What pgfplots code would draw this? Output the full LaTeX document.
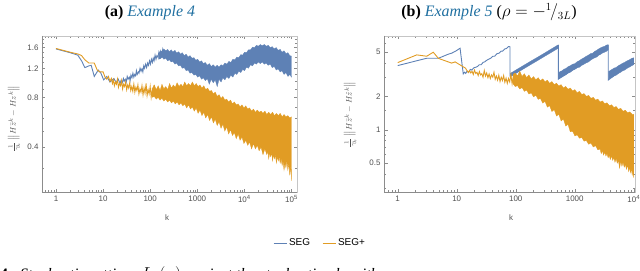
\documentclass[border=0pt]{standalone}
\usepackage{fontspec}
\setmainfont{Liberation Serif}
\newfontfamily\sansf{Liberation Sans}
\usepackage{pgfplots}
\pgfplotsset{compat=1.18}
\definecolor{segblue}{RGB}{94,129,181}
\definecolor{segorange}{RGB}{225,156,36}
\definecolor{titleblue}{RGB}{31,111,160}
\definecolor{tickgray}{RGB}{80,80,80}
\definecolor{framegray}{RGB}{140,140,140}
\begin{document}
\begin{tikzpicture}[x=1bp,y=1bp]
\useasboundingbox (0,0) rectangle (640,270);
% ---------------- left panel ----------------
\begin{axis}[scale only axis, xmode=log, ymode=log,
  axis line style={draw=framegray!50, line width=0.5pt},
  tick style={framegray, line width=0.4pt},
  major tick length=3.5bp, minor tick length=2bp,
  tick align=inside,
  ticklabel style={font=\sansf\fontsize{8}{9}\selectfont, text=tickgray},
  at={(42bp,78bp)}, anchor=south west, width=255bp, height=156bp,
  xmin=0.505, xmax=1.31e5, ymin=0.214, ymax=1.88,
  xtick={1,10,100,1000,10000,100000},
  xticklabels={1,10,100,1000,10\textsuperscript{4},10\textsuperscript{5}},
  minor xtick={0.6,0.7,0.8,0.9,2,3,4,5,6,7,8,9,20,30,40,50,60,70,80,90,200,300,400,500,600,700,800,900,2000,3000,4000,5000,6000,7000,8000,9000,20000,30000,40000,50000,60000,70000,80000,90000},
  ytick={0.4,0.8,1.2,1.6}, yticklabels={0.4,0.8,1.2,1.6},
  minor ytick={0.3,0.5,0.6,0.7,0.9,1.0,1.1,1.3,1.4,1.5,1.7,1.8},
  legend style={at={(1.0902,-0.327)}, anchor=center, draw=none, fill=none, legend columns=2,
    font=\sansf\fontsize{10}{12}\selectfont, /tikz/every even column/.append style={column sep=10bp}},
  legend image code/.code={\draw[#1] (0bp,0bp) -- (13bp,0bp);},
]
% SEG band
\addplot[forget plot, draw=segblue, fill=segblue, line width=0.3bp] coordinates {
(150,1.47) (165,1.53) (180,1.51) (195,1.57) (215,1.53) (235,1.56) (255,1.51) (280,1.55) (305,1.50) (335,1.54) (365,1.48) (400,1.51) (440,1.46) (480,1.49) (530,1.43) (580,1.46) (640,1.40) (700,1.43) (770,1.38) (850,1.39) (930,1.34) (1020,1.36) (1120,1.31) (1230,1.33) (1350,1.28) (1480,1.30) (1630,1.25) (1800,1.28) (1980,1.23) (2180,1.26) (2400,1.22) (2650,1.25) (2900,1.22) (3200,1.26) (3500,1.24) (3850,1.29) (4250,1.27) (4700,1.32) (5150,1.30) (5700,1.36) (6300,1.35) (6900,1.40) (7600,1.39) (8400,1.45) (9200,1.44) (10100,1.50) (11100,1.49) (12200,1.55) (13500,1.55) (14900,1.61) (16400,1.60) (18000,1.65) (19800,1.63) (21800,1.67) (24000,1.64) (26500,1.67) (29000,1.63) (32000,1.65) (35500,1.60) (39000,1.62) (43000,1.57) (47500,1.60) (52000,1.54) (57500,1.56) (63000,1.50) (69500,1.53) (76500,1.47) (84000,1.49) (92000,1.43) (100000,1.42)
(100000,1.06) (92000,1.10) (84000,1.07) (76500,1.13) (69500,1.10) (63000,1.16) (57500,1.14) (52000,1.19) (47500,1.17) (43000,1.23) (39000,1.21) (35500,1.27) (32000,1.25) (29000,1.29) (26500,1.27) (24000,1.31) (21800,1.28) (19800,1.31) (18000,1.27) (16400,1.29) (14900,1.24) (13500,1.26) (12200,1.20) (11100,1.22) (10100,1.16) (9200,1.18) (8400,1.13) (7600,1.15) (6900,1.10) (6300,1.12) (5700,1.06) (5150,1.09) (4700,1.04) (4250,1.07) (3850,1.02) (3500,1.05) (3200,0.99) (2900,1.03) (2650,0.93) (2400,1.02) (2180,0.98) (1980,1.03) (1800,0.96) (1630,1.04) (1480,1.01) (1350,1.05) (1230,1.03) (1120,1.08) (1020,1.06) (930,1.10) (850,1.09) (770,1.13) (700,1.12) (640,1.17) (580,1.16) (530,1.21) (480,1.20) (440,1.25) (400,1.24) (365,1.29) (335,1.27) (305,1.32) (280,1.31) (255,1.35) (235,1.33) (215,1.38) (195,1.36) (180,1.40) (165,1.37) (150,1.36)
};
% SEG line
\addplot[forget plot, segblue, line width=0.9bp] coordinates {
(1,1.57) (2,1.49) (2.9,1.44) (3.5,1.33) (4.1,1.21) (5.0,1.24) (5.6,1.25) (6.5,1.07) (7.9,1.17) (9,1.12) (10.3,1.02) (12,1.07) (14,0.99) (17,1.04) (19,0.98) (21,1.03) (23,0.97)
(24,1.01) (25.5,0.98) (27,1.04) (28,1.00) (29.5,1.03) (31,0.99) (32.5,1.07) (34,1.03) (36,1.06) (37.5,1.01) (39,1.09) (41,1.05) (43,1.12) (45,1.06) (47,1.10) (49,1.08) (51,1.16) (53,1.10) (56,1.14) (58,1.12) (61,1.20) (64,1.15) (67,1.19) (70,1.14) (73,1.24) (76,1.20) (80,1.27) (84,1.21) (88,1.29) (92,1.25) (97,1.33) (101,1.27) (106,1.36) (111,1.30) (116,1.38) (121,1.33) (127,1.44) (133,1.36) (139,1.43) (146,1.40) (153,1.50) (160,1.42) (168,1.52) (176,1.45) (185,1.56) (194,1.44)
};
% SEG+ band
\addplot[forget plot, draw=segorange, fill=segorange, line width=0.3bp] coordinates {
(110,0.90) (122,0.95) (135,0.89) (148,0.94) (162,0.88) (178,0.96) (195,0.90) (214,0.93) (235,0.89) (258,0.97) (283,0.91) (310,0.95) (340,0.92) (373,0.98) (410,0.93) (450,0.96) (494,0.93) (542,0.99) (595,0.94) (653,0.97) (717,0.94) (787,0.99) (864,0.94) (948,0.97) (1040,0.93) (1142,0.95) (1254,0.91) (1376,0.94) (1510,0.89) (1658,0.91) (1820,0.87) (2000,0.88) (2195,0.84) (2410,0.86) (2645,0.81) (2900,0.83) (3190,0.79) (3500,0.81) (3840,0.77) (4220,0.78) (4630,0.75) (5080,0.77) (5580,0.73) (6120,0.75) (6720,0.72) (7380,0.73) (8100,0.70) (8900,0.72) (9770,0.69) (10700,0.71) (11800,0.68) (12900,0.69) (14200,0.66) (15600,0.68) (17100,0.65) (18800,0.67) (20600,0.65) (22600,0.66) (24800,0.64) (27300,0.66) (30000,0.63) (32900,0.65) (36100,0.63) (39700,0.65) (43500,0.62) (47800,0.64) (52500,0.62) (57600,0.64) (63300,0.61) (69500,0.63) (76300,0.61) (83800,0.62) (92000,0.60) (100000,0.61)
(100000,0.25) (96000,0.31) (92000,0.27) (88000,0.32) (83800,0.29) (80000,0.33) (76300,0.30) (72800,0.32) (69500,0.29) (66300,0.33) (63300,0.31) (60400,0.34) (57600,0.32) (55000,0.35) (52500,0.33) (50100,0.35) (47800,0.32) (45600,0.36) (43500,0.34) (41500,0.36) (39700,0.33) (37900,0.37) (36100,0.35) (34500,0.37) (32900,0.34) (31400,0.38) (30000,0.36) (27300,0.39) (24800,0.36) (22600,0.40) (20600,0.38) (18800,0.41) (17100,0.39) (15600,0.42) (14200,0.39) (12900,0.43) (11800,0.41) (10700,0.44) (9770,0.42) (8900,0.46) (8100,0.44) (7380,0.48) (6720,0.45) (6120,0.49) (5580,0.47) (5080,0.51) (4630,0.48) (4220,0.53) (3840,0.50) (3500,0.55) (3190,0.52) (2900,0.57) (2645,0.54) (2410,0.59) (2195,0.56) (2000,0.61) (1820,0.58) (1658,0.63) (1510,0.60) (1376,0.65) (1254,0.62) (1142,0.67) (1040,0.64) (948,0.69) (864,0.66) (787,0.70) (717,0.68) (653,0.72) (595,0.69) (542,0.73) (494,0.71) (450,0.74) (410,0.72) (373,0.75) (340,0.73) (310,0.76) (283,0.74) (258,0.77) (235,0.75) (214,0.78) (195,0.76) (178,0.79) (162,0.77) (148,0.80) (135,0.78) (122,0.81) (110,0.80)
};
% SEG+ line
\addplot[forget plot, segorange, line width=0.9bp] coordinates {
(1,1.58) (2,1.50) (3,1.46) (3.5,1.43) (4.1,1.35) (5,1.29) (6.5,1.29) (7.5,1.17) (8.5,1.14) (10,1.14) (11,1.06) (12,1.03) (13,1.07) (14,1.00)
(15,1.04) (15.8,0.97) (16.6,1.02) (17.4,0.94) (18.3,0.99) (19.2,0.96) (20.2,1.03) (21.2,0.92) (22.3,0.97) (23.5,0.94) (24.7,1.01) (26,0.90) (27.3,0.96) (28.7,0.93) (30.2,0.99) (31.7,0.89) (33.3,0.95) (35,0.91) (36.8,0.98) (38.7,0.88) (40.7,0.93) (42.8,0.87) (45,0.96) (47.3,0.86) (49.7,0.92) (52.2,0.88) (54.9,0.95) (57.7,0.84) (60.7,0.90) (63.8,0.86) (67,0.94) (70.5,0.83) (74,0.91) (77.8,0.85) (81.8,0.97) (86,0.82) (90.4,0.89) (95,0.84) (100,0.93) (105,0.80) (110,0.88) (116,0.83) (122,0.95)
};
\addlegendimage{segblue, line width=1bp}\addlegendentry{SEG}
\addlegendimage{segorange, line width=1bp}\addlegendentry{SEG+}
\draw[framegray, line width=0.6pt] (rel axis cs:0,1) -- (rel axis cs:0,0) -- (rel axis cs:1,0);
\end{axis}
% ---------------- right panel ----------------
\begin{axis}[scale only axis, xmode=log, ymode=log,
  axis line style={draw=framegray!50, line width=0.5pt},
  tick style={framegray, line width=0.4pt},
  major tick length=3.5bp, minor tick length=2bp,
  tick align=inside,
  ticklabel style={font=\sansf\fontsize{8}{9}\selectfont, text=tickgray},
  at={(384bp,78bp)}, anchor=south west, width=251bp, height=156bp,
  xmin=0.586, xmax=1.05e4, ymin=0.275, ymax=7.0,
  xtick={1,10,100,1000,10000},
  xticklabels={1,10,100,1000,10\textsuperscript{4}},
  minor xtick={0.6,0.7,0.8,0.9,2,3,4,5,6,7,8,9,20,30,40,50,60,70,80,90,200,300,400,500,600,700,800,900,2000,3000,4000,5000,6000,7000,8000,9000},
  ytick={0.5,1,2,5}, yticklabels={0.5,1,2,5},
  minor ytick={0.3,0.4,0.6,0.7,0.8,0.9,1.5,3,4,6,7},
]
% SEG teeth
\addplot[draw=segblue, fill=segblue, line width=0.3bp] coordinates {
(80,3.21) (100,3.45) (130,3.75) (170,4.08) (220,4.42) (290,4.82) (380,5.26) (450,5.55) (527,5.84)
(527,5.44) (450,5.17) (380,4.90) (290,4.50) (220,4.12) (170,3.80) (130,3.49) (100,3.21) (80,2.99)
};
\addplot[draw=segblue, fill=segblue, line width=0.3bp] coordinates {
(527,3.23) (570,3.36) (610,3.40) (655,3.52) (700,3.55) (770,3.70) (850,3.79) (920,3.90) (1000,3.94) (1100,4.10) (1200,4.20) (1300,4.33) (1400,4.42) (1550,4.58) (1700,4.70) (1850,4.85) (2000,4.90) (2200,5.10) (2350,5.20) (2550,5.36) (2700,5.45) (2950,5.58) (3200,5.65) (3450,5.80) (3700,5.85)
(3700,5.25) (3450,5.10) (3200,5.00) (2950,4.92) (2700,4.76) (2550,4.70) (2350,4.52) (2200,4.46) (2000,4.35) (1850,4.23) (1700,4.08) (1550,4.00) (1400,3.87) (1300,3.80) (1200,3.66) (1100,3.62) (1000,3.50) (920,3.44) (850,3.31) (770,3.25) (700,3.12) (655,3.07) (610,3.00) (570,2.95) (527,2.86)
};
\addplot[draw=segblue, fill=segblue, line width=0.3bp] coordinates {
(3700,3.32) (4000,3.43) (4300,3.50) (4650,3.60) (5000,3.64) (5500,3.78) (6000,3.88) (6500,3.98) (7000,4.05) (7700,4.18) (8500,4.28) (9200,4.40) (10000,4.45)
(10000,3.86) (9200,3.78) (8500,3.68) (7700,3.58) (7000,3.45) (6500,3.40) (6000,3.30) (5500,3.22) (5000,3.10) (4650,3.06) (4300,2.98) (4000,2.93) (3700,2.81)
};
\addplot[segblue, line width=0.9bp] coordinates {
(1,3.79) (3.1,4.41) (4.9,4.41) (7.2,4.8) (8.2,4.9) (9.5,5.1) (11.4,5.43) (12.9,3.19) (13.5,3.3) (14.2,3.22) (15,3.38) (16,3.3) (17,3.5) (18,3.45) (19.5,3.62) (21,3.66) (22.5,3.72) (24,3.85) (26,3.86) (28,4.05) (30,4.10) (32,4.22) (35,4.33) (38,4.42) (41,4.6) (44,4.6) (48,4.85) (52,4.9) (56,5.1) (60,5.12) (65,5.35) (70,5.4) (75,5.62) (80,5.6) (80,3.06) (527,5.64) (527,5.8) (527,2.86) (3700,5.55) (3700,5.8) (3700,2.81) (10000,4.15)
};
% SEG+ band
\addplot[draw=segorange, fill=segorange, line width=0.3bp] coordinates {
(90,3.15) (98,3.25) (107,3.05) (117,3.38) (128,3.02) (140,3.20) (153,2.95) (167,3.12) (183,2.88) (200,3.02) (219,2.82) (240,2.95) (262,2.76) (287,2.88) (314,2.70) (343,2.80) (375,2.62) (410,2.72) (449,2.55) (491,2.63) (537,2.48) (587,2.55) (642,2.38) (702,2.46) (768,2.32) (840,2.38) (919,2.24) (1005,2.30) (1100,2.15) (1200,2.22) (1315,2.08) (1440,2.12) (1575,2.00) (1720,2.04) (1880,1.92) (2060,1.96) (2250,1.85) (2460,1.89) (2690,1.78) (2940,1.82) (3220,1.72) (3520,1.75) (3850,1.65) (4210,1.68) (4600,1.59) (5030,1.62) (5500,1.53) (6020,1.56) (6580,1.47) (7200,1.50) (7870,1.42) (8600,1.45) (9400,1.38) (10000,1.38)
(10000,0.37) (9700,0.43) (9400,0.39) (9100,0.45) (8800,0.41) (8500,0.46) (8200,0.42) (7870,0.48) (7500,0.44) (7200,0.49) (6900,0.46) (6580,0.51) (6300,0.47) (6020,0.52) (5750,0.45) (5500,0.53) (5250,0.50) (5030,0.55) (4800,0.51) (4600,0.56) (4400,0.53) (4210,0.58) (4000,0.54) (3850,0.59) (3680,0.56) (3520,0.61) (3370,0.58) (3220,0.63) (3080,0.59) (2940,0.65) (2810,0.61) (2690,0.67) (2460,0.66) (2250,0.72) (2060,0.70) (1880,0.76) (1720,0.74) (1575,0.80) (1440,0.79) (1315,0.85) (1200,0.84) (1100,0.90) (1005,0.88) (919,0.97) (840,0.96) (768,1.12) (702,1.08) (642,1.25) (587,1.20) (537,1.38) (491,1.33) (449,1.52) (410,1.46) (375,1.65) (343,1.60) (314,1.80) (287,1.74) (262,1.92) (240,1.88) (219,2.05) (200,1.98) (183,2.15) (167,2.10) (153,2.28) (140,2.22) (128,2.40) (117,2.33) (107,2.50) (98,2.45) (90,2.6)
};
\addplot[segorange, line width=0.9bp] coordinates {
(1,4.03) (2.1,4.73) (3.1,4.6) (4.0,5.0) (4.9,4.4) (8.2,3.99) (9.4,4.09) (12.2,3.76) (14,3.6) (15.7,3.28) (16.5,3.42) (17.3,3.25) (18.2,3.36) (19.1,3.15) (20,3.45) (21,3.22) (22,3.30) (23.1,3.08) (24.2,3.35) (25.4,3.12) (26.6,3.20) (27.9,2.98) (29.3,3.42) (30.7,3.05) (32.2,3.25) (33.8,2.95) (35.4,3.18) (37.1,2.90) (38.9,3.12) (40.8,2.98) (42.8,3.30) (44.9,2.85) (47,3.05) (49.3,2.80) (51.7,3.10) (54.2,2.72) (56.8,2.98) (59.5,2.78) (62.4,3.08) (65.4,2.68) (68.6,2.92) (71.9,2.62) (75.4,2.90) (79,2.70) (82.8,3.15) (86.8,2.60) (91,3.05) (95,2.75)
};
\draw[framegray, line width=0.6pt] (rel axis cs:0,1) -- (rel axis cs:0,0) -- (rel axis cs:1,0);
\end{axis}
% ---------------- texts ----------------
\node[anchor=base, font=\fontsize{16}{18}\selectfont] at (150bp,253bp) {\textbf{(a)} \textit{\color{titleblue}Example 4}};
\node[anchor=base, font=\fontsize{16}{18}\selectfont] at (489bp,253bp) {\textbf{(b)} \textit{\color{titleblue}Example 5} ($\rho = -{}^{1\!}/_{3L}$)};
\node[rotate=90, text=tickgray, font=\fontsize{8}{9}\selectfont, inner sep=1bp] at (14bp,151bp) {$\frac{1}{\gamma_k}\left\|H\bar z^k - H z^k\right\|$};
\node[rotate=90, text=tickgray, font=\fontsize{8}{9}\selectfont, inner sep=1bp] at (350bp,155bp) {$\frac{1}{\gamma_k}\left\|H\bar z^k - H\hat z^k\right\|$};
\node[text=tickgray, font=\sansf\fontsize{8}{9}\selectfont] at (167bp,52bp) {k};
\node[text=tickgray, font=\sansf\fontsize{8}{9}\selectfont] at (511bp,52bp) {k};
\node[anchor=base west, inner sep=0pt, font=\fontsize{16}{18}\selectfont] at (0bp,-9.5bp) {\textbf{4.}~~\textit{Stochastic setting. $L_k(x)$ against the stochastic algorithm}};
\end{tikzpicture}
\end{document}
